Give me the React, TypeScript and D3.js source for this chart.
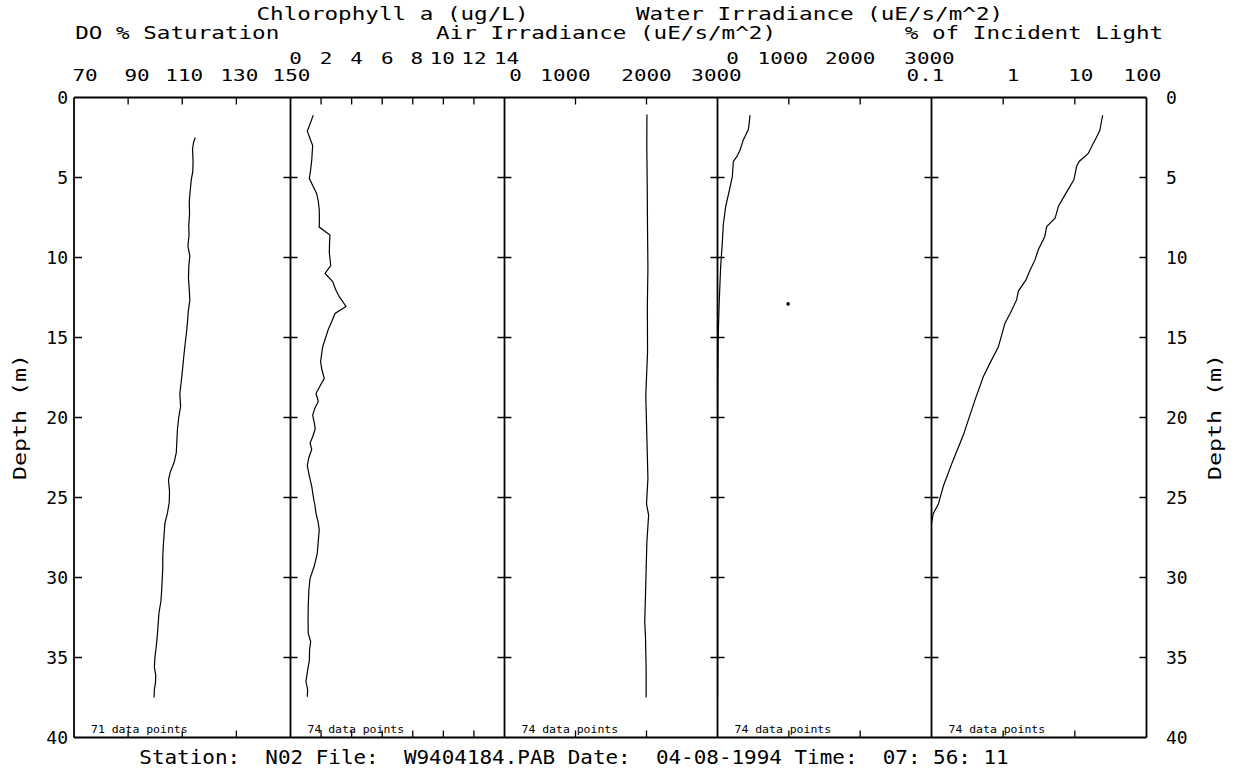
import React from 'react';
import * as d3 from 'd3';

const W = 1235;
const H = 769;

// [depth (m), value]
const doProfile: [number, number][] = [
  [2.5, 114.8], [2.8, 114.2], [3.2, 113.8], [4.0, 114.0], [4.6, 113.9], [5.2, 113.3], [5.9, 112.9],
  [6.5, 112.6], [7.3, 112.7], [8.0, 112.4], [8.6, 112.5], [9.3, 112.1], [9.9, 112.8], [10.6, 112.4],
  [11.3, 112.3], [12.0, 112.6], [12.7, 112.8], [13.4, 112.2], [14.1, 111.9], [14.8, 111.5], [15.5, 111.0],
  [16.3, 110.5], [17.0, 110.1], [17.8, 109.6], [18.5, 109.1], [19.3, 109.4], [20.0, 108.7], [20.8, 108.2],
  [21.5, 108.0], [22.2, 107.8], [22.8, 107.0], [23.4, 105.6], [23.9, 104.9], [24.6, 105.3], [25.3, 105.2],
  [26.0, 104.5], [26.6, 103.6], [27.3, 103.3], [28.0, 103.0], [28.7, 102.8], [29.4, 102.8], [30.1, 102.6],
  [30.8, 102.4], [31.5, 102.1], [32.2, 101.4], [32.9, 101.1], [33.6, 100.8], [34.3, 100.4], [35.0, 99.9],
  [35.6, 99.7], [36.1, 100.2], [36.6, 100.1], [37.0, 99.7], [37.5, 99.6],
];

const chlProfile: [number, number][] = [
  [1.1, 1.49], [1.6, 1.3], [2.1, 1.1], [2.5, 1.25], [3.0, 1.45], [3.9, 1.39], [4.5, 1.32], [5.05, 1.23],
  [5.5, 1.45], [6.0, 1.71], [6.5, 1.82], [7.0, 1.88], [7.6, 1.89], [8.1, 1.88], [8.6, 2.58], [9.2, 2.55],
  [9.7, 2.54], [10.2, 2.6], [10.5, 2.63], [11.0, 2.26], [11.5, 2.76], [12.0, 2.95], [12.45, 3.19],
  [12.8, 3.45], [13.07, 3.63], [13.5, 2.91], [14.0, 2.7], [14.5, 2.47], [15.0, 2.3], [15.6, 2.1],
  [16.5, 1.97], [17.0, 2.05], [17.55, 2.21], [18.0, 1.95], [18.5, 1.67], [19.0, 1.82], [19.4, 1.6],
  [19.85, 1.45], [20.3, 1.55], [20.7, 1.62], [21.2, 1.45], [21.6, 1.28], [22.0, 1.39], [22.5, 1.2],
  [23.0, 1.1], [23.6, 1.22], [24.3, 1.39], [25.0, 1.5], [25.5, 1.6], [26.0, 1.67], [26.5, 1.8],
  [27.0, 1.88], [27.7, 1.82], [28.5, 1.75], [29.3, 1.55], [30.05, 1.28], [30.8, 1.2], [31.8, 1.16],
  [32.6, 1.15], [33.5, 1.16], [34.0, 1.32], [34.5, 1.25], [35.2, 1.23], [35.8, 1.12], [36.5, 1.01],
  [37.0, 1.12], [37.45, 1.1],
];

const airProfile: [number, number][] = [
  [1.07, 2006], [3.0, 2004], [5.4, 2010], [8.0, 2014], [10.7, 2020], [13.0, 2012], [15.9, 2015],
  [18.6, 1990], [21.2, 2005], [23.8, 2020], [25.4, 2000], [26.1, 2030], [27.8, 2005], [30.4, 1990],
  [32.8, 1975], [33.6, 1985], [35.7, 1995], [37.5, 1995],
];

const waterProfile: [number, number][] = [
  [1.1, 456], [1.6, 445], [2.0, 432], [2.3, 400], [2.65, 362], [3.3, 315], [3.7, 270], [4.0, 222],
  [4.95, 208], [5.8, 166], [6.8, 115], [7.95, 81], [9.1, 67], [10.6, 44], [12.65, 25], [14.7, 11],
  [17.8, 5], [20.0, 3], [25.0, 2], [30.0, 1], [37.5, 1],
];

const waterOutlier: [number, number][] = [[12.9, 990]];

const pctProfile: [number, number][] = [
  [1.1, 24.5], [1.5, 23.5], [2.03, 22.4], [2.5, 20.0], [2.86, 18.1], [3.5, 15.4], [4.0, 11.5],
  [4.3, 10.6], [5.15, 9.7], [5.9, 7.7], [6.8, 5.9], [7.55, 5.3], [8.07, 4.05], [8.7, 3.8], [9.5, 3.1],
  [10.15, 2.78], [10.8, 2.37], [11.4, 2.08], [12.1, 1.63], [12.65, 1.54], [13.5, 1.25], [14.1, 1.06],
  [15.6, 0.855], [16.6, 0.655], [17.45, 0.528], [18.9, 0.405], [20.15, 0.327], [21.1, 0.278],
  [22.65, 0.201], [24.3, 0.146], [25.4, 0.125], [26.0, 0.106], [26.6, 0.1],
];

const depthTicks = [0, 5, 10, 15, 20, 25, 30, 35, 40];
const doTicks = [70, 90, 110, 130, 150];
const chlTicks = [0, 2, 4, 6, 8, 10, 12, 14];
const airTicks = [0, 1000, 2000, 3000];
const waterTicks = [0, 1000, 2000, 3000];
const pctTicks = [0.1, 1, 10, 100];
const pctTickLabels = ['0.1', '1', '10', '100'];

const titles = ['DO % Saturation', 'Chlorophyll a (ug/L)', 'Air Irradiance (uE/s/m^2)', 'Water Irradiance (uE/s/m^2)', '% of Incident Light'];
const dataCounts = [71, 74, 74, 74, 74];
const footer = 'Station:  N02 File:  W9404184.PAB Date:  04-08-1994 Time:  07: 56: 11';

const FONT = '"DejaVu Sans Mono", monospace';

// layout
const EDGES = [74, 290.5, 504.5, 717.5, 931.5, 1146.5];
const TOP = 97.5;
const BOTTOM = 737.5;
const ROW_A = 14;
const ROW_B = 33;
const ROW_C = 58;
const ROW_D = 75;

type Panel = {
  scale: any;
  ticks: number[];
  labels: string[];
  labelRow: number;
  labelDx: number[];
  titleRow: number;
  data: [number, number][];
  extra?: [number, number][];
};

function T(props: { x: number; y: number; text: string; size: number; charW?: number; anchor?: string; rotate?: boolean }) {
  const { x, y, text, size, charW, anchor = 'middle', rotate } = props;
  const extra: any = {};
  if (charW) {
    extra.textLength = text.length * charW;
    extra.lengthAdjust = 'spacingAndGlyphs';
  }
  return (
    <text
      x={x}
      y={y}
      fontFamily={FONT}
      fontSize={size}
      textAnchor={anchor as any}
      transform={rotate ? `rotate(-90 ${x} ${y})` : undefined}
      style={{ whiteSpace: 'pre' }}
      fill="#000"
      {...extra}
    >
      {text}
    </text>
  );
}

export default function App() {
  const y = d3.scaleLinear().domain([0, 40]).range([TOP, BOTTOM]);
  const px = (i: number) => EDGES[i];

  const panels: Panel[] = [
    { scale: d3.scaleLinear().domain([70, 150]).range([px(0), px(1)]), ticks: doTicks, labels: doTicks.map(String), labelRow: ROW_D, labelDx: [11, 9, 2, 3, 1], titleRow: ROW_B, data: doProfile },
    { scale: d3.scaleLinear().domain([0, 14]).range([px(1), px(2)]), ticks: chlTicks, labels: chlTicks.map(String), labelRow: ROW_C, labelDx: [5, 5, 5, 5, 4, -1, 0, 2], titleRow: ROW_A, data: chlProfile },
    { scale: d3.scaleLinear().domain([0, 3000]).range([px(2), px(3)]), ticks: airTicks, labels: airTicks.map(String), labelRow: ROW_D, labelDx: [11, -10, 0, -1], titleRow: ROW_B, data: airProfile },
    { scale: d3.scaleLinear().domain([0, 3000]).range([px(3), px(4)]), ticks: waterTicks, labels: waterTicks.map(String), labelRow: ROW_C, labelDx: [15, -6, -10, -2], titleRow: ROW_A, data: waterProfile, extra: waterOutlier },
    { scale: d3.scaleLog().domain([0.1, 100]).range([px(4), px(5)]), ticks: pctTicks, labels: pctTickLabels, labelRow: ROW_D, labelDx: [-6, 10, 6, -4], titleRow: ROW_B, data: pctProfile },
  ];

  const TICK = 7;
  const elements: any[] = [];

  panels.forEach((p, i) => {
    const line = d3
      .line<[number, number]>()
      .x((d) => p.scale(d[1]))
      .y((d) => y(d[0]));
    elements.push(<path key={`l${i}`} d={line(p.data) || ''} fill="none" stroke="#000" strokeWidth={1.2} />);
    (p.extra || []).forEach((d, k) => {
      elements.push(<circle key={`e${i}-${k}`} cx={p.scale(d[1])} cy={y(d[0])} r={1.8} fill="#000" />);
    });
    p.ticks.slice(1, -1).forEach((t, k) => {
      const x = p.scale(t);
      elements.push(<line key={`tt${i}-${k}`} x1={x} x2={x} y1={TOP} y2={TOP + TICK} stroke="#000" strokeWidth={1.3} />);
      elements.push(<line key={`tb${i}-${k}`} x1={x} x2={x} y1={BOTTOM} y2={BOTTOM - TICK} stroke="#000" strokeWidth={1.3} />);
    });
    p.ticks.forEach((t, k) => {
      elements.push(
        <T key={`tl${i}-${k}`} x={p.scale(t) + p.labelDx[k]} y={p.labelRow + 6} text={p.labels[k]} size={16} charW={12.6} />
      );
    });
    const cx = (px(i) + px(i + 1)) / 2 - 5;
    elements.push(<T key={`ti${i}`} x={cx} y={p.titleRow + 6} text={titles[i]} size={17} charW={13.6} />);
    const label = `${dataCounts[i]} data points`;
    elements.push(<T key={`dc${i}`} x={px(i) + 17} y={BOTTOM - 5} text={label} size={11} charW={6.9} anchor="start" />);
  });

  const frame: any[] = [];
  frame.push(<line key="top" x1={px(0)} x2={px(5)} y1={TOP} y2={TOP} stroke="#000" strokeWidth={2} />);
  frame.push(<line key="bot" x1={px(0)} x2={px(5)} y1={BOTTOM} y2={BOTTOM} stroke="#000" strokeWidth={2} />);
  for (let i = 0; i <= 5; i++) {
    const x = px(i);
    frame.push(<line key={`v${i}`} x1={x} x2={x} y1={TOP} y2={BOTTOM} stroke="#000" strokeWidth={1.8} />);
    depthTicks.slice(1, -1).forEach((d) => {
      const x1 = i === 0 ? x : x - TICK;
      const x2 = i === 5 ? x : x + TICK;
      frame.push(<line key={`dt${i}-${d}`} x1={x1} x2={i === 0 ? x + TICK + 1 : x2} y1={y(d)} y2={y(d)} stroke="#000" strokeWidth={1.5} />);
    });
  }

  const depthLabels = depthTicks.map((d) => (
    <g key={`dl${d}`}>
      <T x={68} y={y(d) + 6.5} text={String(d)} size={18} anchor="end" />
      <T x={1166} y={y(d) + 6.5} text={String(d)} size={18} anchor="start" />
    </g>
  ));

  return (
    <svg width={W} height={H} style={{ position: 'absolute', left: 0, top: 0, background: '#fff' }}>
      <rect x={0} y={0} width={W} height={H} fill="#fff" />
      {frame}
      {elements}
      {depthLabels}
      <T x={26} y={417} text="Depth (m)" size={17} charW={14} rotate />
      <T x={1221} y={417} text="Depth (m)" size={17} charW={14} rotate />
      <T x={574} y={764} text={footer} size={19} charW={12.6} />
    </svg>
  );
}
